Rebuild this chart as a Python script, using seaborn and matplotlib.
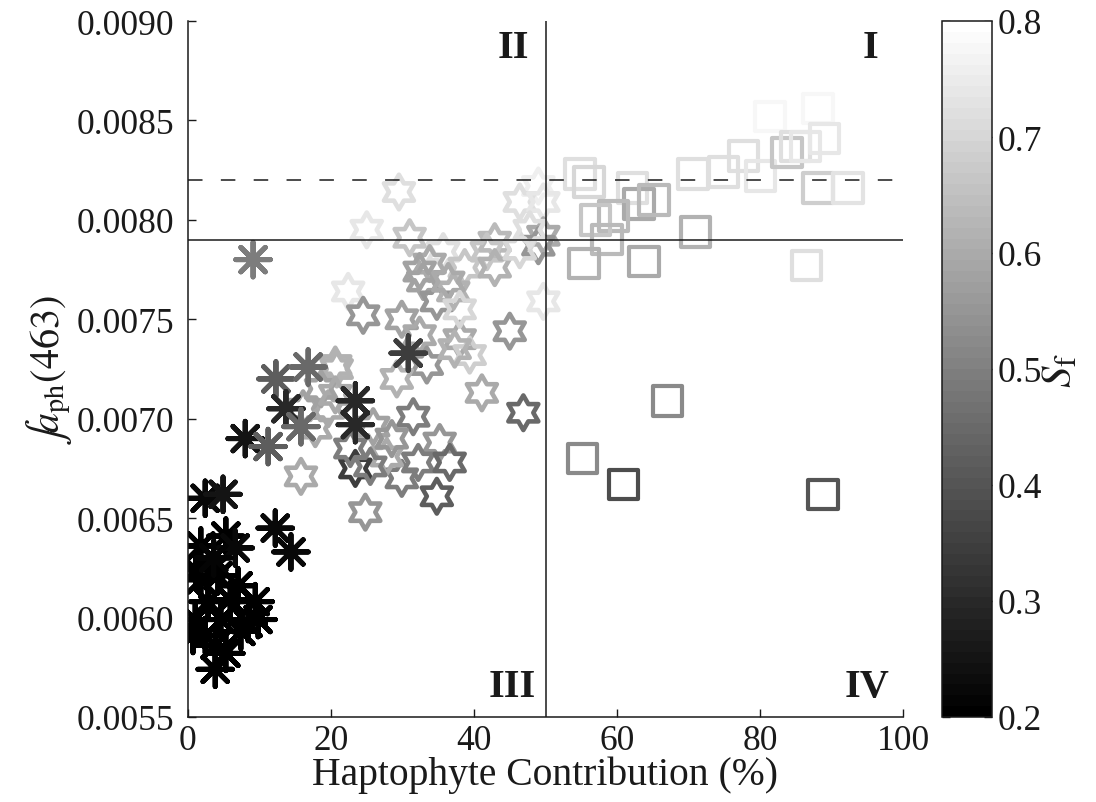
import numpy as np
import pandas as pd
import matplotlib
matplotlib.use("Agg")
import matplotlib.pyplot as plt
import seaborn as sns
from matplotlib.path import Path
from matplotlib.colors import Normalize
from matplotlib.cm import ScalarMappable

# ---------------- data ----------------
# asterisks (low haptophyte contribution)
ast_x = [9.1, 30.8, 12.3, 16.8, 13.7, 23.4, 23.4, 15.8, 8.0, 11.2, 2.4, 4.9, 12.2, 14.4,
         5.3, 1.8, 6.6, 1.8, 4.2, 7.0, 9.4, 2.8, 1.0, 4.6, 7.4, 2.4, 3.8, 0.7, 9.8, 3.8,
         1.1, 5.9, 3.6, 8.4, 5.3]
ast_y = [0.00780, 0.00733, 0.00720, 0.00726, 0.00705, 0.00709, 0.00697, 0.00696, 0.00690,
         0.00686, 0.00660, 0.00662, 0.00645, 0.00633, 0.00641, 0.00636, 0.00635, 0.00619,
         0.00621, 0.00616, 0.00608, 0.00608, 0.00599, 0.00599, 0.00593, 0.00591, 0.00586,
         0.00591, 0.00599, 0.00574, 0.00624, 0.00609, 0.00630, 0.00597, 0.00582]
ast_c = [0.50, 0.35, 0.42, 0.45, 0.30, 0.30, 0.30, 0.45, 0.25, 0.42, 0.22, 0.25, 0.22, 0.22,
         0.20, 0.20, 0.22, 0.20, 0.20, 0.20, 0.20, 0.20, 0.20, 0.20, 0.20, 0.20, 0.20, 0.20,
         0.20, 0.20, 0.20, 0.20, 0.21, 0.20, 0.20]

# hexagrams (intermediate)
hex_x = [29.5, 25.0, 31.0, 35.7, 33.8, 32.4, 38.7, 42.9, 41.8, 42.9, 49.0, 46.4, 49.7, 49.7,
         49.0, 22.4, 24.5, 29.9, 32.9, 34.8, 37.1, 36.4, 49.7, 45.0, 38.0, 32.4, 33.4, 29.2,
         39.4, 41.1, 46.9, 31.5, 35.2, 32.2, 36.6, 29.9, 34.8, 24.8, 20.8, 27.8, 25.9, 20.6,
         19.6, 18.6, 15.8, 23.4, 25.5, 22.7, 28.5, 16.1, 17.8, 20.6, 38.0, 37.3, 46.4, 47.8]
hex_y = [0.00814, 0.00795, 0.00791, 0.00784, 0.00778, 0.00774, 0.00776, 0.00789, 0.00784,
         0.00776, 0.00817, 0.00809, 0.00809, 0.00792, 0.00787, 0.00764, 0.00752, 0.00750,
         0.00769, 0.00759, 0.00764, 0.00769, 0.00759, 0.00744, 0.00740, 0.00742, 0.00727,
         0.00720, 0.00732, 0.00713, 0.00703, 0.00701, 0.00688, 0.00678, 0.00678, 0.00670,
         0.00661, 0.00653, 0.00725, 0.00681, 0.00696, 0.00727, 0.00705, 0.00715, 0.00671,
         0.00675, 0.00676, 0.00685, 0.00690, 0.00705, 0.00695, 0.00712, 0.00755, 0.00735,
         0.00785, 0.00795]
hex_c = [0.72, 0.74, 0.66, 0.72, 0.60, 0.58, 0.66, 0.64, 0.66, 0.62, 0.76, 0.72, 0.74, 0.60,
         0.55, 0.74, 0.55, 0.58, 0.58, 0.55, 0.62, 0.60, 0.74, 0.55, 0.60, 0.60, 0.55, 0.62,
         0.68, 0.60, 0.45, 0.50, 0.55, 0.50, 0.45, 0.50, 0.42, 0.55, 0.62, 0.60, 0.58, 0.62,
         0.60, 0.58, 0.60, 0.35, 0.50, 0.50, 0.55, 0.58, 0.60, 0.60, 0.70, 0.62, 0.70, 0.72]

# squares (high haptophyte contribution)
sq_x = [54.8, 56.1, 62.2, 70.6, 74.9, 77.7, 80.1, 81.4, 83.8, 85.0, 86.4, 88.1, 89.0, 88.1,
        92.3, 63.1, 65.2, 59.5, 57.0, 58.6, 55.4, 63.8, 71.0, 86.5, 55.2, 60.9, 67.1, 88.8]
sq_y = [0.00823, 0.00819, 0.00816, 0.00823, 0.00824, 0.00832, 0.00822, 0.00852, 0.00834,
        0.00837, 0.00837, 0.00856, 0.00841, 0.00816, 0.00816, 0.00808, 0.00810, 0.00802,
        0.00800, 0.00790, 0.00778, 0.00779, 0.00794, 0.00777, 0.00680, 0.00667, 0.00709,
        0.00662]
sq_c = [0.72, 0.70, 0.72, 0.72, 0.72, 0.72, 0.74, 0.78, 0.66, 0.72, 0.74, 0.78, 0.74, 0.68,
        0.73, 0.60, 0.64, 0.64, 0.66, 0.64, 0.62, 0.60, 0.62, 0.72, 0.52, 0.38, 0.52, 0.40]

x_ticks = [0, 20, 40, 60, 80, 100]
y_ticks = [0.0055, 0.0060, 0.0065, 0.0070, 0.0075, 0.0080, 0.0085, 0.0090]
y_tick_labels = ["0.0055", "0.0060", "0.0065", "0.0070", "0.0075", "0.0080", "0.0085", "0.0090"]
cb_ticks = [0.2, 0.3, 0.4, 0.5, 0.6, 0.7, 0.8]
cb_tick_labels = ["0.2", "0.3", "0.4", "0.5", "0.6", "0.7", "0.8"]
quadrants = ["I", "II", "III", "IV"]
x_split = 50
y_solid = 0.0079
y_dashed = 0.0082

# ---------------- style ----------------
sns.set_theme(style="ticks", rc={
    "axes.edgecolor": "k", "xtick.color": "k", "ytick.color": "k",
    "text.color": "k", "axes.labelcolor": "k",
    "xtick.direction": "in", "ytick.direction": "in",
})
plt.rcParams["font.family"] = ["Liberation Serif", "DejaVu Serif"]
plt.rcParams["mathtext.fontset"] = "stix"

cmap = plt.get_cmap("gray", 64)
norm = Normalize(0.2, 0.8)

# hexagram marker path
ang = np.deg2rad(90 + 30 * np.arange(12))
rad = np.where(np.arange(12) % 2 == 0, 1.0, 1 / np.sqrt(3))
hex_verts = np.column_stack([rad * np.cos(ang), rad * np.sin(ang)])
hex_verts = np.vstack([hex_verts, hex_verts[:1]])
hexagram = Path(hex_verts, closed=True)

fig = plt.figure(figsize=(10.96, 8.03), dpi=100)
ax = fig.add_axes([188 / 1096, 85 / 803, 715 / 1096, 696 / 803])
cax = fig.add_axes([942 / 1096, 85 / 803, 50 / 1096, 696 / 803])

df_hex = pd.DataFrame({"x": hex_x, "y": hex_y, "c": hex_c})
df_ast = pd.DataFrame({"x": ast_x, "y": ast_y, "c": ast_c})
df_sq = pd.DataFrame({"x": sq_x, "y": sq_y, "c": sq_c})


def hollow(df, marker, size, lw):
    sns.scatterplot(data=df, x="x", y="y", hue="c", palette=cmap, hue_norm=(0.2, 0.8),
                    marker=marker, s=size, legend=False, ax=ax, zorder=2)
    coll = ax.collections[-1]
    cols = cmap(norm(np.asarray(df["c"])))
    coll.set_facecolor("none")
    coll.set_edgecolor(cols)
    coll.set_linewidth(lw)


hollow(df_hex, hexagram, 620, 3.3)
hollow(df_ast, (8, 2, 0), 620, 3.6)
hollow(df_sq, "s", 450, 3.0)

ax.axvline(x_split, color="k", lw=1.1, zorder=3)
ax.axhline(y_solid, color="k", lw=1.1, zorder=3)
ax.axhline(y_dashed, color="k", lw=1.1, ls=(0, (9.5, 12)), zorder=3)

ax.set_xlim(0, 100)
ax.set_ylim(0.0055, 0.0090)
ax.set_xticks(x_ticks)
ax.set_xticklabels([str(t) for t in x_ticks])
ax.set_yticks(y_ticks)
ax.set_yticklabels(y_tick_labels)
ax.tick_params(axis="both", labelsize=25.5, length=6, width=1)
ax.tick_params(axis="x", pad=5)
ax.tick_params(axis="y", pad=10)
for side in ["top", "right"]:
    ax.spines[side].set_visible(False)
for side in ["left", "bottom"]:
    ax.spines[side].set_linewidth(1.1)

ax.set_xlabel("Haptophyte Contribution (%)", fontsize=28.5, labelpad=-1)
ax.set_ylabel(r"$\int\!a_{\mathrm{ph}}(463)$", fontsize=29, labelpad=2)

qkw = dict(fontsize=29, fontweight="bold", transform=ax.transAxes)
ax.text(0.955, 0.962, quadrants[0], ha="center", va="center", **qkw)
ax.text(0.455, 0.962, quadrants[1], ha="center", va="center", **qkw)
ax.text(0.453, 0.044, quadrants[2], ha="center", va="center", **qkw)
ax.text(0.950, 0.044, quadrants[3], ha="center", va="center", **qkw)

sm = ScalarMappable(norm=norm, cmap=cmap)
cb = fig.colorbar(sm, cax=cax)
cb.set_ticks(cb_ticks)
cb.set_ticklabels(cb_tick_labels)
cb.outline.set_edgecolor("k")
cb.outline.set_linewidth(1.1)
cax.tick_params(axis="y", direction="in", left=True, right=True, length=6, width=1,
                labelsize=25.5, pad=4)
cb.set_label(r"$S_{\mathrm{f}}$", fontsize=31, labelpad=0)

fig.savefig("out.png", dpi=100, facecolor="white")
